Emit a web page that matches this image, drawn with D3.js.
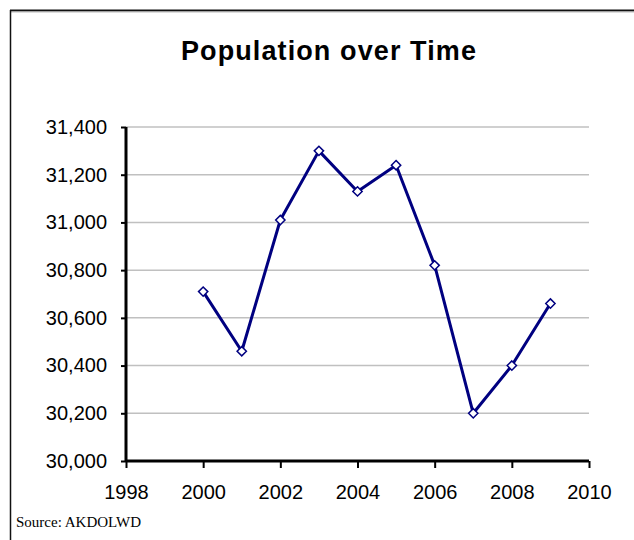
<!DOCTYPE html>
<html>
<head>
<meta charset="utf-8">
<script src="https://cdn.jsdelivr.net/npm/d3@7"></script>
<style>
  body { margin: 0; background: #fff; }
</style>
</head>
<body>
<script>

// Chart data
const years = [2000, 2001, 2002, 2003, 2004, 2005, 2006, 2007, 2008, 2009];
const population = [30710, 30460, 31010, 31300, 31130, 31240, 30820, 30200, 30400, 30660];
const yTicks = [30000, 30200, 30400, 30600, 30800, 31000, 31200, 31400];
const xTicks = [1998, 2000, 2002, 2004, 2006, 2008, 2010];

const width = 634;
const height = 540;
const marginTop = 127;
const marginRight = 45;
const marginBottom = 79;
const marginLeft = 126;

const svg = d3.select("body").append("svg")
    .attr("width", width)
    .attr("height", height)
    .attr("viewBox", [0, 0, width, height]);

// Frame: top and left edges only
svg.append("line")
    .attr("x1", 10).attr("x2", width).attr("y1", 10.5).attr("y2", 10.5)
    .attr("stroke", "#111").attr("stroke-width", 2);
svg.append("line")
    .attr("x1", 10).attr("x2", width).attr("y1", 12).attr("y2", 12)
    .attr("stroke", "#bbb").attr("stroke-width", 1);
svg.append("line")
    .attr("x1", 10.5).attr("x2", 10.5).attr("y1", 10).attr("y2", height)
    .attr("stroke", "#111").attr("stroke-width", 1.5);

// Scales
const x = d3.scaleLinear([1998, 2010], [marginLeft, width - marginRight]);
const y = d3.scaleLinear([30000, 31400], [height - marginBottom, marginTop]);

// Grid lines
svg.append("g")
    .selectAll("line")
    .data(yTicks.slice(1))
    .join("line")
    .attr("x1", marginLeft)
    .attr("x2", width - marginRight)
    .attr("y1", d => y(d))
    .attr("y2", d => y(d))
    .attr("stroke", "#c0c0c0")
    .attr("stroke-width", 1.5);

// Y axis
svg.append("g")
    .attr("transform", `translate(${marginLeft},0)`)
    .call(d3.axisLeft(y).tickValues(yTicks).tickFormat(d3.format(",")).tickSize(5).tickPadding(14))
    .call(g => g.select(".domain").attr("stroke", "#000").attr("stroke-width", 3)
        .attr("d", `M0,${y(31400)}V${y(30000)}`))
    .call(g => g.selectAll(".tick line").attr("stroke", "#000").attr("stroke-width", 2))
    .call(g => g.selectAll("text")
        .attr("font-family", "Arial, 'Liberation Sans', sans-serif")
        .attr("font-size", 20)
        .attr("fill", "#000"));

// X axis
svg.append("g")
    .attr("transform", `translate(0,${height - marginBottom})`)
    .call(d3.axisBottom(x).tickValues(xTicks).tickFormat(d3.format("d")).tickSize(7).tickPadding(17))
    .call(g => g.select(".domain").attr("stroke", "#000").attr("stroke-width", 3)
        .attr("d", `M${x(1998)},0H${x(2010)}`))
    .call(g => g.selectAll(".tick line").attr("stroke", "#000").attr("stroke-width", 2))
    .call(g => g.selectAll("text")
        .attr("font-family", "Arial, 'Liberation Sans', sans-serif")
        .attr("font-size", 20)
        .attr("fill", "#000"));

// Line
const line = d3.line()
    .x((d, i) => x(years[i]))
    .y(d => y(d));

svg.append("path")
    .attr("fill", "none")
    .attr("stroke", "#000080")
    .attr("stroke-width", 3)
    .attr("stroke-linejoin", "round")
    .attr("d", line(population));

// Diamond markers
const diamond = d3.symbol().type(d3.symbolDiamond2).size(55);
svg.append("g")
    .selectAll("path")
    .data(population)
    .join("path")
    .attr("transform", (d, i) => `translate(${x(years[i])},${y(d)})`)
    .attr("d", diamond())
    .attr("fill", "#fff")
    .attr("stroke", "#000080")
    .attr("stroke-width", 1.5);

// Title
svg.append("text")
    .attr("x", 329)
    .attr("y", 60)
    .attr("text-anchor", "middle")
    .attr("font-family", "Arial, 'Liberation Sans', sans-serif")
    .attr("font-weight", "bold")
    .attr("font-size", 27)
    .attr("letter-spacing", 1.1)
    .attr("fill", "#000")
    .text("Population over Time");

// Source note
svg.append("text")
    .attr("x", 16)
    .attr("y", 527)
    .attr("font-family", "'Liberation Serif', 'DejaVu Serif', serif")
    .attr("font-size", 15)
    .attr("fill", "#000")
    .text("Source: AKDOLWD");

</script>
</body>
</html>
